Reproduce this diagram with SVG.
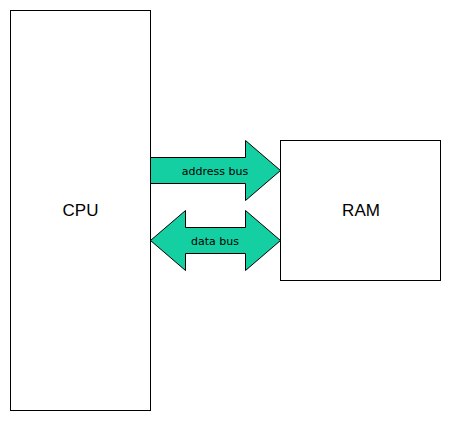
<svg xmlns="http://www.w3.org/2000/svg" width="450" height="421" viewBox="0 0 450 421">
<style>
.box{fill:#fff;stroke:#000;stroke-width:1}
.bus{fill:#13CFA1;stroke:#000;stroke-width:1}
.big{font-family:"Liberation Sans",Arial,sans-serif;font-size:17px;fill:#000;text-anchor:middle}
.lbl{font-family:"DejaVu Sans","Liberation Sans",sans-serif;font-size:11px;fill:#000;text-anchor:middle}
</style>
<rect width="450" height="421" fill="#fff"/>
<g id="cpu">
<rect class="box" x="10.5" y="10.5" width="140" height="400"/>
<text class="big" x="80.5" y="216">CPU</text>
</g>
<g id="ram">
<rect class="box" x="280.5" y="140.5" width="160" height="140"/>
<text class="big" x="361" y="216">RAM</text>
</g>
<g id="connectors">
<g id="address-bus">
<path class="bus" d="M150.5,157.5 H245.5 V140.5 L280.5,170.5 L245.5,200.5 V183.5 H150.5 Z"/>
<text class="lbl" x="215" y="175">address bus</text>
</g>
<g id="data-bus">
<path class="bus" d="M150.5,240.5 L185.5,210.5 V227.5 H245.5 V210.5 L280.5,240.5 L245.5,270.5 V253.5 H185.5 V270.5 Z"/>
<text class="lbl" x="215" y="245">data bus</text>
</g>
</g>
</svg>
